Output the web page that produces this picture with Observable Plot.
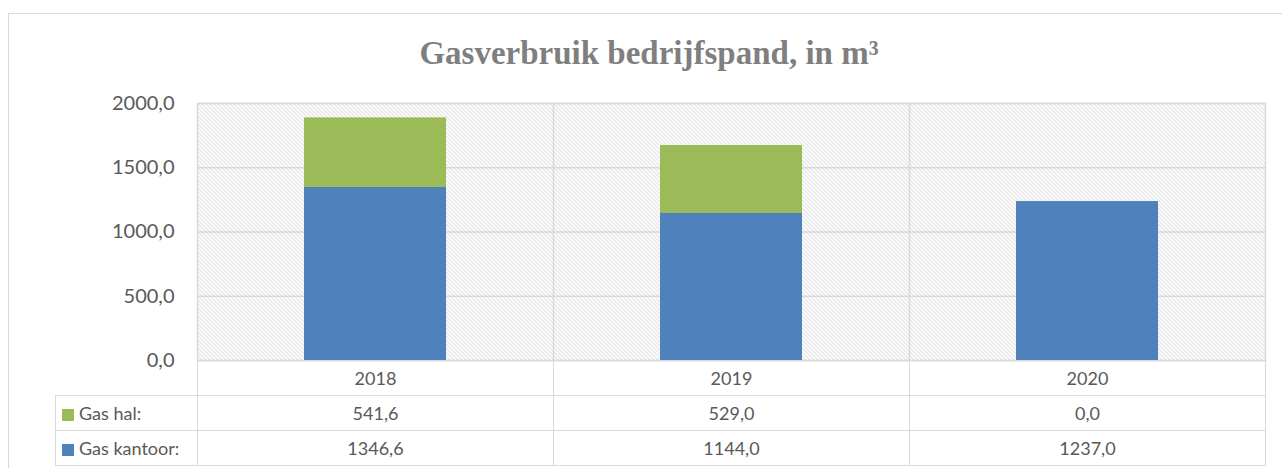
<!DOCTYPE html>
<html>
<head>
<meta charset="utf-8">
<script src="https://cdn.jsdelivr.net/npm/d3@7"></script>
<script src="https://cdn.jsdelivr.net/npm/@observablehq/plot@0.6"></script>
<style>
  html, body { margin: 0; padding: 0; background: #fff; width: 1282px; height: 468px; overflow: hidden; position: relative; }
  #frame { position: absolute; left: 8px; top: 13px; width: 1290px; height: 470px; border: 1px solid #d9d9d9; box-sizing: border-box; }
  #title { position: absolute; left: 0; top: 37px; width: 1298px; text-align: center; font-family: "Liberation Serif", "DejaVu Serif", serif; font-weight: bold; font-size: 33px; line-height: 33px; color: #7f7f7f; white-space: nowrap; }
  #chart { position: absolute; left: 0; top: 90px; }
  #chart svg { overflow: visible; }
  #tbl { position: absolute; left: 55px; top: 360px; border-collapse: collapse; font-family: Lato, "Open Sans", sans-serif; font-size: 18px; color: #595959; table-layout: fixed; }
  #tbl td { border: 1px solid #d9d9d9; height: 35px; padding: 0; text-align: center; box-sizing: border-box; }
  #tbl td.blank { border: none; }
  #tbl td.lab { text-align: left; padding-left: 6px; white-space: nowrap; }
  .sw { display: inline-block; width: 12px; height: 12px; margin-right: 5px; vertical-align: -1px; }
</style>
</head>
<body>
<div id="frame"></div>
<div id="title">Gasverbruik bedrijfspand, in m³</div>
<div id="chart"></div>
<table id="tbl"></table>
<script>
const years = ["2018", "2019", "2020"];
const gasHal = [541.6, 529.0, 0.0];
const gasKantoor = [1346.6, 1144.0, 1237.0];
const seriesNames = ["Gas kantoor:", "Gas hal:"];
const seriesColors = ["#4f81bd", "#9bbb59"];
const yTicks = [0, 500, 1000, 1500, 2000];

const fmt = v => v.toFixed(1).replace(".", ",");

const rows = [];
years.forEach((y, i) => {
  rows.push({year: y, series: seriesNames[0], value: gasKantoor[i]});
  rows.push({year: y, series: seriesNames[1], value: gasHal[i]});
});

const W = 1282, H = 290;
const svg = Plot.plot({
  width: W,
  height: H,
  marginLeft: 197,
  marginRight: 17,
  marginTop: 13,
  marginBottom: 20,
  style: {fontFamily: "Lato, 'Open Sans', sans-serif", fontSize: "20px", color: "#595959", background: "transparent", overflow: "visible"},
  x: {domain: years, paddingInner: 0.6, paddingOuter: 0.3, axis: null},
  y: {domain: [0, 2000], ticks: yTicks, tickFormat: fmt, tickSize: 0, tickPadding: 24, label: null},
  color: {domain: seriesNames, range: seriesColors},
  marks: [
    Plot.frame({fill: "url(#hatch)", stroke: null}),
    Plot.gridY(yTicks, {stroke: "#d9d9d9", strokeOpacity: 1, strokeWidth: 1.5}),
    Plot.frame({stroke: "#d9d9d9", strokeWidth: 1.5}),
    Plot.tickX(years.slice(1), {x: d => d, stroke: "#d9d9d9", strokeWidth: 1.5, dx: -178}),
    Plot.barY(rows, Plot.stackY({x: "year", y: "value", fill: "series", order: seriesNames})),
    Plot.axisY({ticks: yTicks, tickFormat: fmt, tickSize: 0, tickPadding: 23, fill: "#595959", fontSize: 20})
  ]
});

// hatch pattern for the plot background
const ns = "http://www.w3.org/2000/svg";
const defs = document.createElementNS(ns, "defs");
defs.innerHTML = `<pattern id="hatch" patternUnits="userSpaceOnUse" width="4" height="4">
  <rect width="4" height="4" fill="#ffffff"/>
  <path d="M-1,-1 L5,5 M-1,3 L1,5 M3,-1 L5,1" stroke="#cfcfcf" stroke-width="1"/>
</pattern>`;
svg.insertBefore(defs, svg.firstChild);
document.getElementById("chart").appendChild(svg);

// data table under the chart
const tbl = d3.select("#tbl");
const colg = tbl.append("colgroup");
colg.append("col").style("width", "142px");
years.forEach(() => colg.append("col").style("width", "356px"));
const r0 = tbl.append("tr");
r0.append("td").attr("class", "blank");
years.forEach(y => r0.append("td").text(y));
[[seriesNames[1], seriesColors[1], gasHal], [seriesNames[0], seriesColors[0], gasKantoor]].forEach(([name, col, vals]) => {
  const tr = tbl.append("tr");
  const td = tr.append("td").attr("class", "lab");
  td.append("span").attr("class", "sw").style("background", col);
  td.append("span").text(name);
  vals.forEach(v => tr.append("td").text(fmt(v)));
});
</script>
</body>
</html>
